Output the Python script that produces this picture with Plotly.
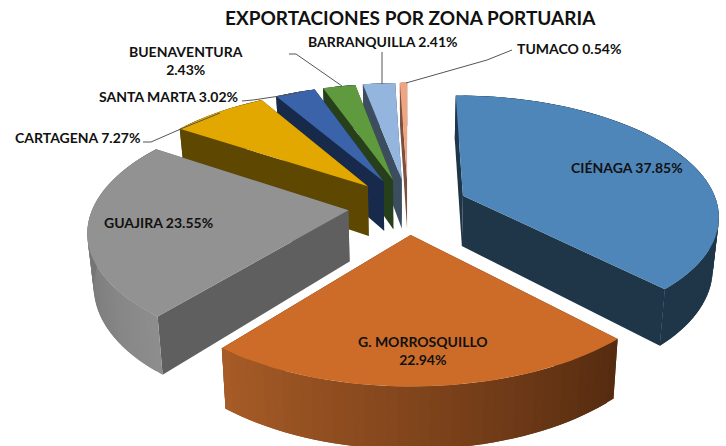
import math
import plotly.graph_objects as go

zones = ["CIÉNAGA", "G. MORROSQUILLO", "GUAJIRA", "CARTAGENA", "SANTA MARTA", "BUENAVENTURA", "BARRANQUILLA", "TUMACO"]
shares = [37.85, 22.94, 23.55, 7.27, 3.02, 2.43, 2.41, 0.54]
top_colors = ["#4F86BA", "#CD6C28", "#929292", "#E2A800", "#3A63AA", "#5F9A3F", "#93B5DE", "#EFA484"]
wall_colors = ["#1F3648", "#552B10", "#5F5F5F", "#5E4700", "#172A4B", "#273F1A", "#3D4D60", "#7A5040"]
rim_start = ["#1F3648", "#552B10", "#8E8E8E", "#5E4700", "#172A4B", "#273F1A", "#3D4D60", "#7A5040"]
rim_end = ["#1F3648", "#A85C26", "#5F5F5F", "#5E4700", "#172A4B", "#273F1A", "#3D4D60", "#7A5040"]
draw_order = [7, 6, 5, 4, 3, 0, 2, 1]

title_text = "EXPORTACIONES POR ZONA PORTUARIA"
label_text = ["CIÉNAGA 37.85%", "G. MORROSQUILLO<br>22.94%", "GUAJIRA 23.55%", "CARTAGENA 7.27%",
              "SANTA MARTA 3.02%", "BUENAVENTURA<br>2.43%", "BARRANQUILLA 2.41%", "TUMACO 0.54%"]
label_x = [627, 423, 158, 77, 168, 186, 383, 569]
label_y = [167, 350, 222, 137, 96, 60, 41, 48]

leaders = [
    ([143, 151, 183, 220], [142, 142, 128, 113]),
    ([242, 253, 280, 300], [101, 100, 96, 92]),
    ([289, 296, 342], [54, 54, 86]),
    ([382, 382], [52, 84]),
    ([406, 487, 512], [83, 60, 50]),
]

CX, CY = 408, 206
RADIUS, EXPLODE = 255, 60
PERSP, TILT = 0.0006, 0.465
DEPTH, SHRINK = 51, 0.98
START = 0.0


def project(t_deg, mid_deg, r=RADIUS, low=False):
    t, m = math.radians(t_deg), math.radians(mid_deg)
    X = EXPLODE * math.sin(m) + r * math.sin(t)
    Y = -EXPLODE * math.cos(m) - r * math.cos(t)
    s = 1 / (1 - PERSP * Y)
    x, y = X * s, TILT * Y * s
    if low:
        return CX + x * SHRINK, CY + y + DEPTH * s
    return CX + x, CY + y


def mix(c1, c2, f):
    a = [int(c1[i:i + 2], 16) for i in (1, 3, 5)]
    b = [int(c2[i:i + 2], 16) for i in (1, 3, 5)]
    return "#%02X%02X%02X" % tuple(round(p + (q - p) * f) for p, q in zip(a, b))


fig = go.Figure()


def poly(points, color):
    xs = [p[0] for p in points]
    ys = [p[1] for p in points]
    fig.add_trace(go.Scatter(x=xs + xs[:1], y=ys + ys[:1], mode="lines", fill="toself", fillcolor=color,
                             line=dict(color=color, width=0), hoverinfo="skip", showlegend=False))


angles = []
a = START
for v in shares:
    d = v / sum(shares) * 360
    angles.append((a, a + d))
    a += d


def rim(i, ts, mid, front):
    n = len(ts) - 1
    for k in range(n):
        tm = (ts[k] + ts[k + 1]) / 2
        if (math.cos(math.radians(tm)) < 0) != front:
            continue
        stop = min(k + 2, n)  # overlap the next strip so that no seam shows
        poly([project(ts[k], mid), project(ts[stop], mid), project(ts[stop], mid, low=True), project(ts[k], mid, low=True)],
             mix(rim_start[i], rim_end[i], (k + 0.5) / n))


for i in draw_order:
    t0, t1 = angles[i]
    mid = (t0 + t1) / 2
    n = max(4, int((t1 - t0) / 2))
    ts = [t0 + (t1 - t0) * k / n for k in range(n + 1)]
    rim(i, ts, mid, False)
    for t in (t0, t1):
        poly([project(mid, mid, 0), project(t, mid), project(t, mid, low=True), project(mid, mid, 0, low=True)], wall_colors[i])
    rim(i, ts, mid, True)
    poly([project(mid, mid, 0)] + [project(t, mid) for t in ts], top_colors[i])

for lx, ly in leaders:
    fig.add_trace(go.Scatter(x=lx, y=ly, mode="lines", line=dict(color="#555555", width=1), hoverinfo="skip", showlegend=False))

for txt, x, y in zip(label_text, label_x, label_y):
    fig.add_annotation(x=x, y=y, text="<b>%s</b>" % txt, showarrow=False, xref="x", yref="y",
                       font=dict(family="Lato", size=14, color="#111111"))
fig.add_annotation(x=410, y=17, text="<b>%s</b>" % title_text, showarrow=False, xref="x", yref="y",
                   font=dict(family="Lato", size=19, color="#111111"))

fig.update_layout(width=726, height=446, margin=dict(l=0, r=0, t=0, b=0), paper_bgcolor="white", plot_bgcolor="white",
                  xaxis=dict(range=[0, 726], visible=False, fixedrange=True),
                  yaxis=dict(range=[446, 0], visible=False, fixedrange=True))
fig.write_html("out.html", config={"displayModeBar": False},
               post_script="document.body.style.margin='0';document.body.style.overflow='hidden';")
